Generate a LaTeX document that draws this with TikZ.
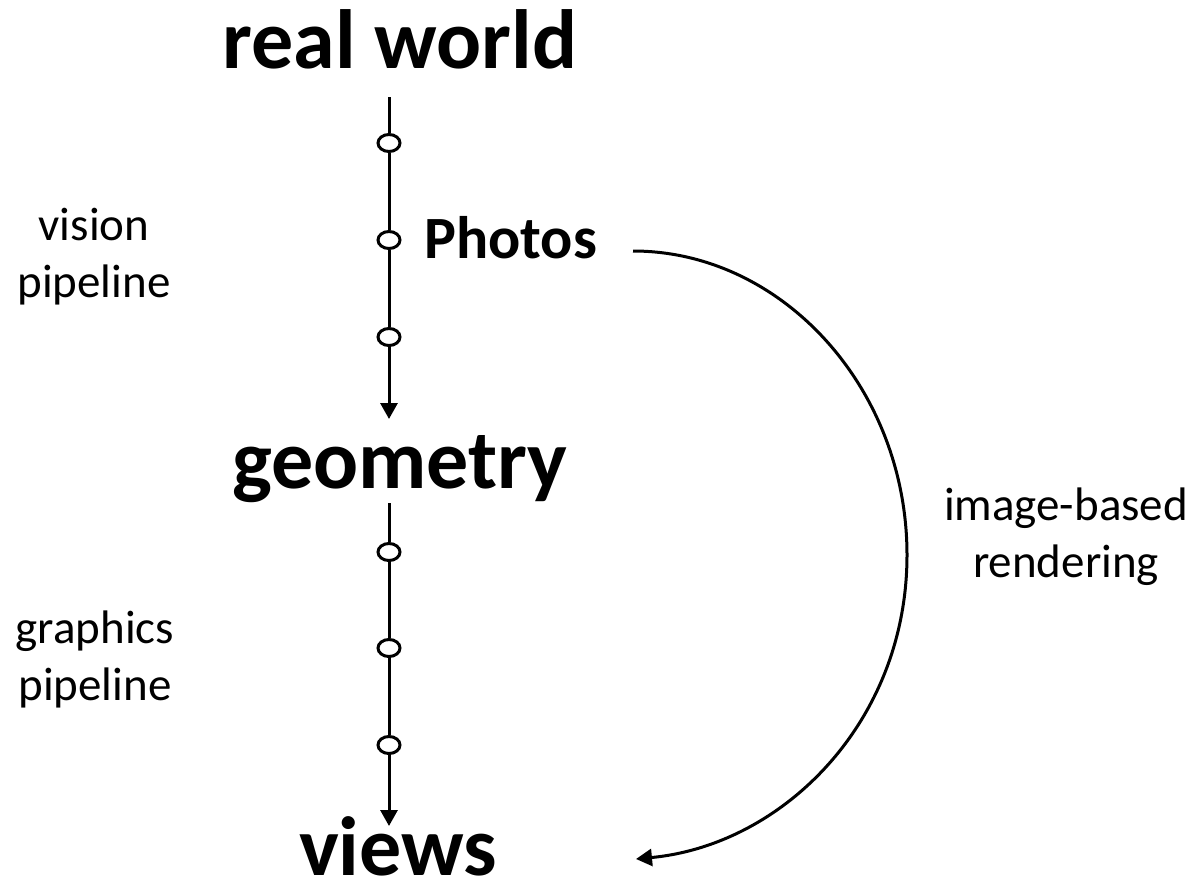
\documentclass[tikz,border=0pt]{standalone}
\usepackage{fontspec}
\setmainfont{Carlito}
\usetikzlibrary{arrows.meta, positioning, shapes.geometric}
\tikzset{
  big/.style = {font=\fontsize{84}{96}\selectfont\bfseries, inner sep=0pt},
  mid/.style = {font=\fontsize{60}{70}\selectfont\bfseries, inner sep=0pt},
  lbl/.style = {font=\fontsize{47}{57}\selectfont, align=center, inner sep=0pt},
  dot/.style = {ellipse, draw=black, line width=3pt, fill=white, minimum width=22pt, minimum height=17pt, inner sep=0pt},
  ln/.style = {line width=3pt},
  arr/.style = {-{Triangle[length=16pt,width=17pt]}, line width=3pt}
}

\begin{document}
\begin{tikzpicture}[x=1pt, y=-1pt]
\useasboundingbox (0,0) rectangle (1199,886);

% Stages
\node[big, anchor=base] (real) at (400,68) {real world};
\node[big, anchor=base] (geom) at (400,488) {geometry};
\node[big, anchor=base] (views) at (398,875) {views};
\node[mid, anchor=base west] (photos) at (424,258) {Photos};

% Side labels
\node[lbl, anchor=base] (vision) at (94,297) {vision\\pipeline};
\node[lbl, anchor=base] (graph) at (95,700) {graphics\\pipeline};
\node[lbl, anchor=base] (ibr) at (1066,577) {image-based\\rendering};

% Line ends
\coordinate (v1top) at (389,97);
\coordinate (v1end) at (389,419);
\coordinate (v2top) at (389,503);
\coordinate (v2end) at (389,826);

% Steps on the lines
\foreach \i/\y in {1/143, 2/240, 3/337, 4/552, 5/648, 6/745}
  \node[dot] (d\i) at (389,\y) {};

% ----- ARROWS -----
% vision pipeline
\draw[ln] (v1top) -- (d1);
\draw[ln] (d1) -- (d2);
\draw[ln] (d2) -- (d3);
\draw[arr] (d3) -- (v1end);
% graphics pipeline
\draw[ln] (v2top) -- (d4);
\draw[ln] (d4) -- (d5);
\draw[ln] (d5) -- (d6);
\draw[arr] (d6) -- (v2end);
% image-based rendering
\coordinate (ibrstart) at (633,251);
\coordinate (ibrmid) at (907,555);
\coordinate (ibrend) at (636,859);
\draw[arr] (ibrstart) .. controls +(149,0) and +(0,-167) .. (ibrmid)
  .. controls +(0,167) and +(147,-14) .. (ibrend);

\end{tikzpicture}
\end{document}
